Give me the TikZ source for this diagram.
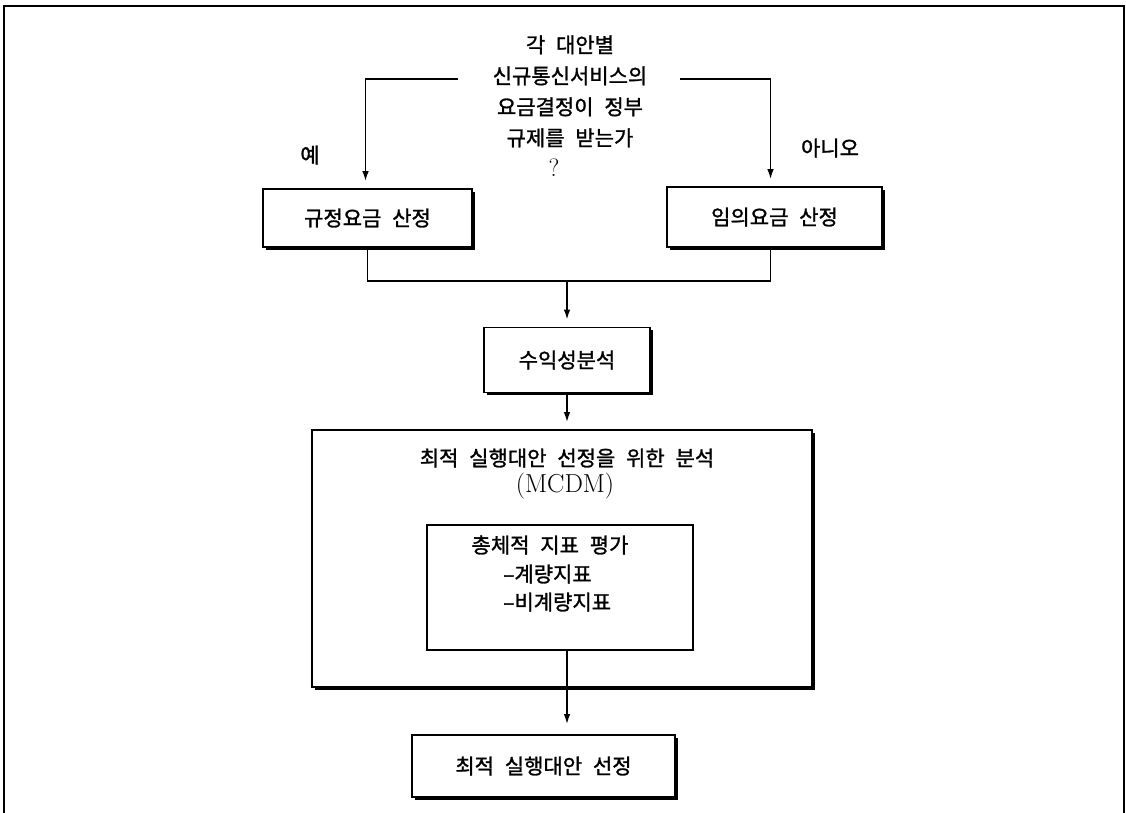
\documentclass[tikz,border=0pt]{standalone}
\usepackage{fontspec}
\newfontfamily\kr[WordSpace=2.3,FakeBold=1.3]{Noto Sans CJK KR}
\usetikzlibrary{arrows.meta,shadows}
\begin{document}
\begin{tikzpicture}[x=1pt,y=-1pt,
  kfont/.style={font=\kr\fontsize{21}{26}\selectfont},
  box/.style={draw,line width=1.6pt,fill=white,inner sep=0pt,kfont,
    drop shadow={shadow xshift=2.8pt,shadow yshift=-2.8pt,opacity=1,fill=black}},
  plainbox/.style={draw,line width=1.6pt,inner sep=0pt},
  lbl/.style={kfont,inner sep=0pt},
  conn/.style={line width=1.7pt},
  arr/.style={conn,-{Latex[length=10pt,width=6.5pt]},shorten >=7pt},
]
\useasboundingbox (0,0) rectangle (1126,812);
\fill[white] (0,0) rectangle (1126,812);
\draw[line width=2.8pt] (4,815) -- (4,6) -- (1124,6) -- (1124,815);

% question
\node[inner sep=0pt,align=center,font=\kr\fontsize{21}{31}\selectfont] (q) at (570,106)
  {각 대안별\\신규통신서비스의\\요금결정이 정부\\규제를 받는가\\{\rmfamily\fontsize{25}{31}\selectfont ?}\hspace*{32pt}};
\coordinate (ql) at (458,79);
\coordinate (qr) at (680,79);

% two branches
\node[box,minimum width=209pt,minimum height=58pt] (reg) at (367.5,218) {규정요금 산정};
\node[box,minimum width=215pt,minimum height=60pt] (arb) at (774.5,217) {임의요금 산정};
\node[lbl] (yes) at (310,155) {예};
\node[lbl] (no) at (830,148) {아니오};
\draw[arr] (ql) -| ([xshift=-2pt]reg.north);
\draw[arr] (qr) -| ([xshift=-4pt]arb.north);

% merge
\coordinate (m) at (567,281);
\draw[conn] (reg.south) |- (m);
\draw[conn] ([xshift=-4pt]arb.south) |- (m);

\node[box,minimum width=166pt,minimum height=65pt] (prof) at (567,360) {수익성분석};
\draw[arr] (m) -- (m |- prof.north);

% big box
\node[box,minimum width=500pt,minimum height=257pt] (big) at (562,558.5) {};
\draw[arr] (prof.south) -- (prof.south |- big.north);
\node[lbl] (t1) at (567,458) {최적 실행대안 선정을 위한 분석};
\node[inner sep=0pt,font=\fontsize{26}{30}\selectfont] (t2) at (565,486) {(MCDM)};
\node[plainbox,minimum width=266pt,minimum height=125pt] (inner) at (560,587.5) {};
\node[lbl] (s1) at (550,545) {총체적 지표 평가};
\node[lbl,anchor=west] (s2) at (503,574) {–계량지표};
\node[lbl,anchor=west] (s3) at (503,602) {–비계량지표};

% final
\node[box,minimum width=263pt,minimum height=62pt] (fin) at (543.5,766) {최적 실행대안 선정};
\draw[arr,shorten >=10pt] ([xshift=7pt]inner.south) -- ([xshift=7pt]inner.south |- fin.north);
\end{tikzpicture}
\end{document}
